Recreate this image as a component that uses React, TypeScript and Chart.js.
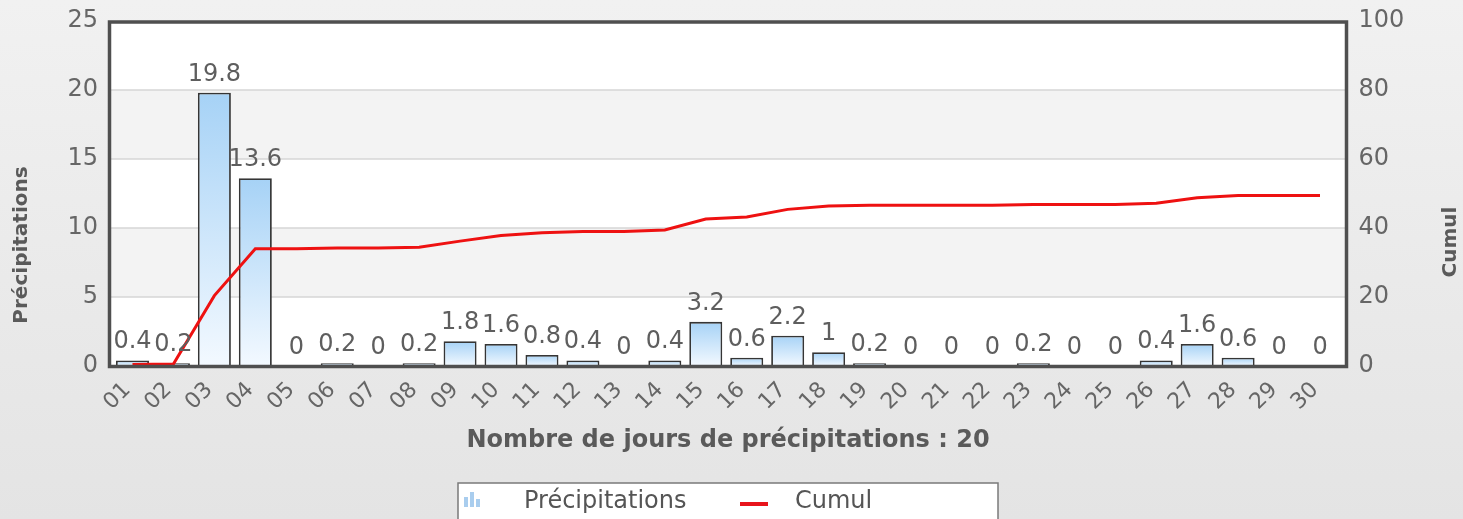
import React, { useEffect, useRef } from 'react';
import { Chart, registerables } from 'chart.js';

Chart.register(...registerables);

const days = ['01','02','03','04','05','06','07','08','09','10','11','12','13','14','15','16','17','18','19','20','21','22','23','24','25','26','27','28','29','30'];
const precipitations = [0.4,0.2,19.8,13.6,0,0.2,0,0.2,1.8,1.6,0.8,0.4,0,0.4,3.2,0.6,2.2,1,0.2,0,0,0,0.2,0,0,0.4,1.6,0.6,0,0];
const cumul = [0.4,0.6,20.4,34,34,34.2,34.2,34.4,36.2,37.8,38.6,39,39,39.4,42.6,43.2,45.4,46.4,46.6,46.6,46.6,46.6,46.8,46.8,46.8,47.2,48.8,49.4,49.4,49.4];
const leftTicks = [0, 5, 10, 15, 20, 25];
const rightTicks = [0, 20, 40, 60, 80, 100];
const xTitle = 'Nombre de jours de précipitations : 20';
const leftTitle = 'Précipitations';
const rightTitle = 'Cumul';

const FONT = '"DejaVu Sans", Verdana, sans-serif';
const TEXT = '#666666';
const TITLE = '#5a5a5a';

const framePlugin = {
  id: 'frame',
  beforeDatasetsDraw(chart: any) {
    const { ctx, chartArea: ca, scales } = chart;
    const y = scales.y;
    const fl = ca.left - 2.5, fr = ca.right + 6;
    ctx.save();
    ctx.fillStyle = '#ffffff';
    ctx.fillRect(fl, y.getPixelForValue(25), fr - fl, y.getPixelForValue(0) - y.getPixelForValue(25));
    ctx.fillStyle = '#f3f3f3';
    [[15, 20], [5, 10]].forEach(([a, b]) => {
      const t = y.getPixelForValue(b), bt = y.getPixelForValue(a);
      ctx.fillRect(fl, t, fr - fl, bt - t);
    });
    ctx.strokeStyle = '#d6d6d6';
    ctx.lineWidth = 1.5;
    [5, 10, 15, 20].forEach((v) => {
      const p = y.getPixelForValue(v);
      ctx.beginPath();
      ctx.moveTo(fl, p);
      ctx.lineTo(fr, p);
      ctx.stroke();
    });
    ctx.restore();
  },
  afterDatasetsDraw(chart: any) {
    const { ctx, chartArea: ca, scales } = chart;
    const y = scales.y;
    const x = scales.x;
    const fl = ca.left - 2.5, fr = ca.right + 6;
    ctx.save();
    const meta = chart.getDatasetMeta(1);
    ctx.font = `24px ${FONT}`;
    ctx.fillStyle = '#5e5e5e';
    ctx.textAlign = 'center';
    ctx.textBaseline = 'alphabetic';
    meta.data.forEach((el: any, i: number) => {
      ctx.fillText(String(precipitations[i]), el.x, el.y - 12);
    });
    ctx.strokeStyle = '#4f4f4f';
    ctx.lineWidth = 3.5;
    const top = y.getPixelForValue(25) + 1;
    const bottom = y.getPixelForValue(0) + 0.5;
    ctx.strokeRect(fl, top, fr - fl, bottom - top);
    // x tick labels
    ctx.font = `22px ${FONT}`;
    ctx.fillStyle = TEXT;
    ctx.textAlign = 'right';
    ctx.textBaseline = 'middle';
    days.forEach((d, i) => {
      const px = x.getPixelForValue(i);
      ctx.save();
      ctx.translate(px - 5, bottom + 20);
      ctx.rotate(-Math.PI / 4);
      ctx.fillText(d, 0, 0);
      ctx.restore();
    });
    ctx.restore();
  },
  afterDraw(chart: any) {
    const { ctx, chartArea: ca } = chart;
    const fl = ca.left - 2.5, fr = ca.right + 6;
    const cx = (fl + fr) / 2;
    ctx.save();
    ctx.fillStyle = TITLE;
    ctx.textAlign = 'center';
    ctx.textBaseline = 'middle';
    ctx.font = `bold 20px ${FONT}`;
    ctx.save();
    ctx.translate(22, 245);
    ctx.rotate(-Math.PI / 2);
    ctx.fillText(leftTitle, 0, 0);
    ctx.restore();
    ctx.save();
    ctx.translate(1451, 242);
    ctx.rotate(-Math.PI / 2);
    ctx.fillText(rightTitle, 0, 0);
    ctx.restore();
    ctx.font = `bold 24px ${FONT}`;
    ctx.fillText(xTitle, cx, 441);
    const lx = cx - 270, ly = 483;
    ctx.fillStyle = '#ffffff';
    ctx.fillRect(lx, ly, 540, 50);
    ctx.strokeStyle = '#7a7a7a';
    ctx.lineWidth = 1.5;
    ctx.strokeRect(lx, ly, 540, 50);
    ctx.fillStyle = '#a9cdee';
    ctx.fillRect(lx + 6, ly + 14, 4, 10);
    ctx.fillRect(lx + 12, ly + 9, 4, 15);
    ctx.fillRect(lx + 18, ly + 16, 4, 8);
    ctx.fillStyle = '#555555';
    ctx.textAlign = 'left';
    ctx.font = `24px ${FONT}`;
    ctx.fillText(leftTitle, lx + 66, ly + 19);
    ctx.fillStyle = '#e8141c';
    ctx.fillRect(lx + 282, ly + 19, 28, 4);
    ctx.fillStyle = '#555555';
    ctx.fillText(rightTitle, lx + 337, ly + 19);
    ctx.restore();
  },
};

export default function App() {
  const ref = useRef<HTMLCanvasElement>(null);
  useEffect(() => {
    const canvas = ref.current!;
    const chart = new Chart(canvas, {
      type: 'bar',
      data: {
        labels: days,
        datasets: [
          {
            type: 'line',
            label: rightTitle,
            data: cumul,
            yAxisID: 'y1',
            borderColor: '#ee1111',
            borderWidth: 3,
            pointRadius: 0,
            tension: 0,
            order: 0,
          } as any,
          {
            type: 'bar',
            label: leftTitle,
            data: precipitations,
            yAxisID: 'y',
            order: 1,
            barPercentage: 0.806,
            categoryPercentage: 1,
            borderColor: '#353535',
            borderWidth: 1.8,
            borderSkipped: 'bottom',
            backgroundColor: (c: any) => {
              const ch = c.chart;
              const sc = ch.scales && ch.scales.y;
              if (!sc || c.raw === undefined) return '#b5daf7';
              const t = sc.getPixelForValue(c.raw);
              const b = sc.getPixelForValue(0);
              if (!isFinite(t) || !isFinite(b) || b - t < 1) return '#b5daf7';
              const g = ch.ctx.createLinearGradient(0, t, 0, b);
              g.addColorStop(0, '#a6d2f6');
              g.addColorStop(1, '#f3f9ff');
              return g;
            },
          } as any,
        ],
      },
      options: {
        responsive: false,
        animation: false,
        layout: { padding: { top: 21, left: 0, right: 0, bottom: 0 } },
        plugins: { legend: { display: false }, tooltip: { enabled: false } },
        scales: {
          x: {
            grid: { display: false, drawTicks: false },
            border: { display: false },
            ticks: { display: false, autoSkip: false },
            afterFit: (s: any) => { s.height = 153; s.paddingLeft = 0; s.paddingRight = 0; },
          },
          y: {
            position: 'left',
            min: 0,
            max: 25,
            afterBuildTicks: (s: any) => { s.ticks = leftTicks.map((v) => ({ value: v })); },
            grid: { display: false, drawTicks: false },
            border: { display: false },
            ticks: { padding: 14, color: TEXT, font: { family: FONT, size: 24 } },
            afterFit: (s: any) => { s.width = 112; s.paddingTop = 0; s.paddingBottom = 0; },
          },
          y1: {
            position: 'right',
            min: 0,
            max: 100,
            afterBuildTicks: (s: any) => { s.ticks = rightTicks.map((v) => ({ value: v })); },
            grid: { display: false, drawTicks: false },
            border: { display: false },
            ticks: { padding: 18, color: TEXT, font: { family: FONT, size: 24 } },
            afterFit: (s: any) => { s.width = 122.5; s.paddingTop = 0; s.paddingBottom = 0; },
          },
        },
      },
      plugins: [framePlugin],
    });
    return () => chart.destroy();
  }, []);
  return (
    <div style={{ position: 'fixed', left: 0, top: 0, width: 1463, height: 519, background: 'linear-gradient(#f1f1f1, #e4e4e4)' }}>
      <canvas ref={ref} width={1463} height={519} />
    </div>
  );
}
